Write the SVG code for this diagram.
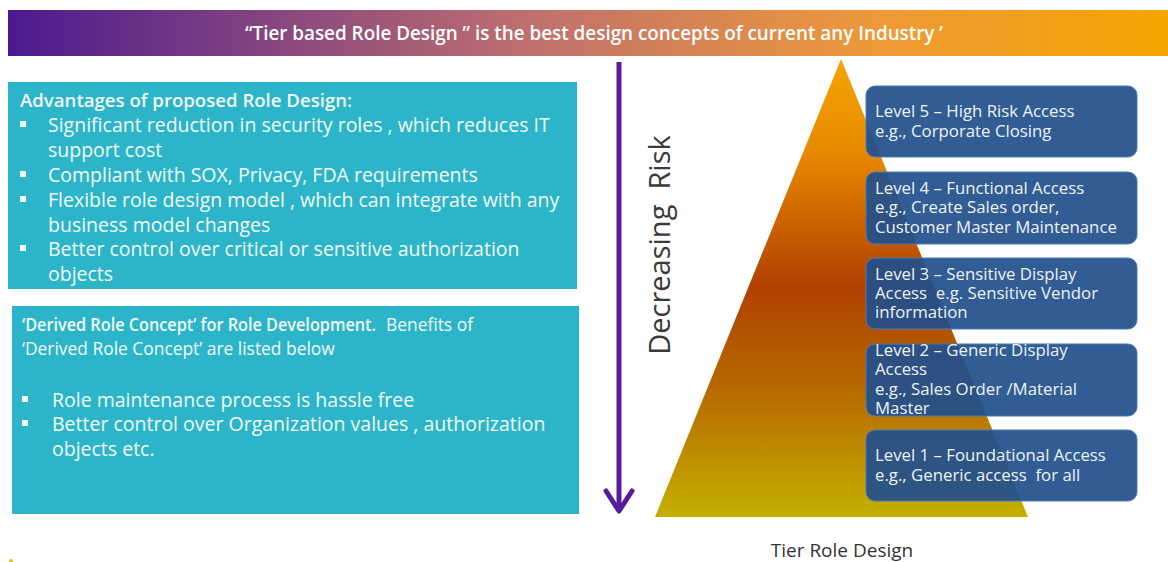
<svg xmlns="http://www.w3.org/2000/svg" width="1168" height="562" viewBox="0 0 1168 562">
  <defs>
    <linearGradient id="bannerGrad" x1="0" y1="0" x2="1" y2="0">
      <stop offset="0" stop-color="#4b1a90"/>
      <stop offset="0.45" stop-color="#c0706e"/>
      <stop offset="0.75" stop-color="#ee9a38"/>
      <stop offset="1" stop-color="#f6a400"/>
    </linearGradient>
    <linearGradient id="pyrGrad" x1="0" y1="0" x2="0" y2="1">
      <stop offset="0" stop-color="#f6a400"/>
      <stop offset="0.2" stop-color="#e88a00"/>
      <stop offset="0.5" stop-color="#b04000"/>
      <stop offset="0.75" stop-color="#b87000"/>
      <stop offset="1" stop-color="#c4b000"/>
    </linearGradient>
    <style>
      .panel { fill: #2cb5c9; }
      .ptext { font-family: "Open Sans", "Noto Sans", sans-serif; font-size: 19.5px; fill: #f2fafb; }
      .intro { font-family: "Open Sans", "Noto Sans", sans-serif; font-size: 17.4px; fill: #f2fafb; }
      .head { font-family: "Open Sans", "Noto Sans", sans-serif; font-size: 18.6px; font-weight: 600; fill: #f2fafb; }
      .bullet { fill: #f2fafb; }
      .level rect { fill: #21508c; fill-opacity: 0.93; stroke: #4a7ab4; stroke-width: 1; }
      .ltext { font-family: "Open Sans", "Noto Sans", sans-serif; font-size: 16.8px; fill: #eef3f9; white-space: pre; }
    </style>
  </defs>

  <!-- title banner -->
  <g id="banner">
    <rect x="8" y="10" width="1160" height="46" fill="url(#bannerGrad)"/>
    <text x="594" y="40" text-anchor="middle" font-family="Open Sans, Noto Sans, sans-serif" font-size="19" font-weight="600" fill="#ffffff" textLength="698" lengthAdjust="spacingAndGlyphs">“Tier based Role Design ” is the best design concepts of current any Industry ’</text>
  </g>

  <!-- advantages panel -->
  <g id="advantages">
    <rect class="panel" x="8" y="82" width="569" height="207"/>
    <text class="head" x="20" y="107">Advantages of proposed Role Design:</text>
    <rect class="bullet" x="20" y="121" width="6" height="6"/>
    <text class="ptext" x="48" y="132">Significant reduction in security roles , which reduces IT</text>
    <text class="ptext" x="48" y="157">support cost</text>
    <rect class="bullet" x="20" y="171" width="6" height="6"/>
    <text class="ptext" x="48" y="182">Compliant with SOX, Privacy, FDA requirements</text>
    <rect class="bullet" x="20" y="196" width="6" height="6"/>
    <text class="ptext" x="48" y="207">Flexible role design model , which can integrate with any</text>
    <text class="ptext" x="48" y="232">business model changes</text>
    <rect class="bullet" x="20" y="245" width="6" height="6"/>
    <text class="ptext" x="48" y="256">Better control over critical or sensitive authorization</text>
    <text class="ptext" x="48" y="281">objects</text>
  </g>

  <!-- derived role panel -->
  <g id="derived">
    <rect class="panel" x="12" y="306" width="567" height="208"/>
    <text class="intro" x="22" y="331" font-weight="600" textLength="354" lengthAdjust="spacingAndGlyphs">‘Derived Role Concept’ for Role Development.</text>
    <text class="intro" x="386" y="331">Benefits of</text>
    <text class="intro" x="22" y="355">‘Derived Role Concept’ are listed below</text>
    <rect class="bullet" x="22" y="396" width="6" height="6"/>
    <text class="ptext" x="52" y="407">Role maintenance process is hassle free</text>
    <rect class="bullet" x="22" y="420" width="6" height="6"/>
    <text class="ptext" x="52" y="431">Better control over Organization values , authorization</text>
    <text class="ptext" x="52" y="456">objects etc.</text>
  </g>

  <!-- risk direction arrow -->
  <g id="connectors">
    <line x1="619" y1="62" x2="619" y2="511" stroke="#561c9c" stroke-width="5"/>
    <polyline points="606,491 619,511 632,491" fill="none" stroke="#561c9c" stroke-width="5" stroke-linecap="round" stroke-linejoin="round"/>
  </g>

  <g id="risk-label">
    <text transform="translate(670,245) rotate(-90)" text-anchor="middle" font-family="Open Sans, Noto Sans, sans-serif" font-size="29" fill="#3a3a3a" style="white-space:pre">Decreasing  Risk</text>
  </g>

  <!-- tier pyramid -->
  <g id="pyramid">
    <polygon points="841,59 1028,517 655,517" fill="url(#pyrGrad)"/>
  </g>

  <g id="level5" class="level">
    <rect x="866" y="86" width="271" height="71" rx="9"/>
    <text class="ltext" x="875" y="117">Level 5 – High Risk Access</text>
    <text class="ltext" x="875" y="137">e.g., Corporate Closing</text>
  </g>
  <g id="level4" class="level">
    <rect x="866" y="172" width="271" height="72" rx="9"/>
    <text class="ltext" x="875" y="194">Level 4 – Functional Access</text>
    <text class="ltext" x="875" y="213">e.g., Create Sales order,</text>
    <text class="ltext" x="875" y="233">Customer Master Maintenance</text>
  </g>
  <g id="level3" class="level">
    <rect x="866" y="258" width="271" height="71" rx="9"/>
    <text class="ltext" x="875" y="280">Level 3 – Sensitive Display</text>
    <text class="ltext" x="875" y="299">Access  e.g. Sensitive Vendor</text>
    <text class="ltext" x="875" y="318">information</text>
  </g>
  <g id="level2" class="level">
    <rect x="866" y="344" width="271" height="72" rx="9"/>
    <text class="ltext" x="875" y="356">Level 2 – Generic Display</text>
    <text class="ltext" x="875" y="375">Access</text>
    <text class="ltext" x="875" y="395">e.g., Sales Order /Material</text>
    <text class="ltext" x="875" y="414">Master</text>
  </g>
  <g id="level1" class="level">
    <rect x="866" y="430" width="271" height="71" rx="9"/>
    <text class="ltext" x="875" y="461">Level 1 – Foundational Access</text>
    <text class="ltext" x="875" y="481">e.g., Generic access  for all</text>
  </g>

  <g id="caption">
    <text x="842" y="557" text-anchor="middle" font-family="Open Sans, Noto Sans, sans-serif" font-size="19" fill="#333333">Tier Role Design</text>
  </g>

  <circle cx="11" cy="561" r="2" fill="#f0c020"/>
</svg>
